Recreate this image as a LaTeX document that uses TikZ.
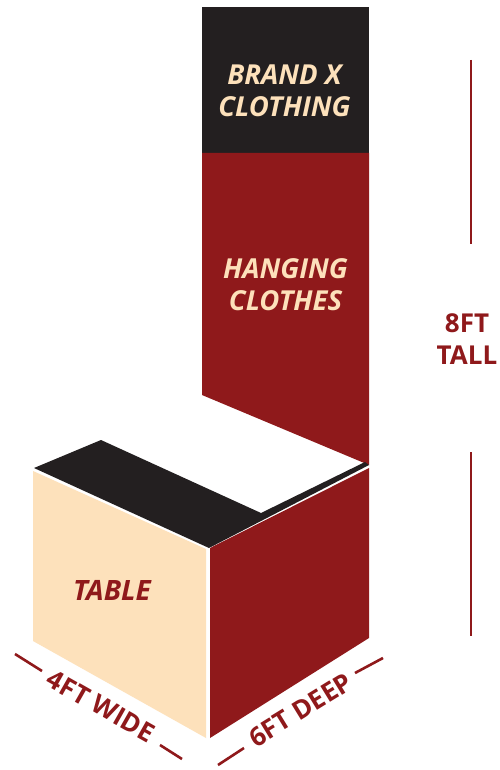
\documentclass[tikz,border=0pt]{standalone}
\usepackage{fontspec}
\setmainfont{Open Sans}
\definecolor{brandred}{HTML}{8F191B}
\definecolor{brandtan}{HTML}{FDE1BB}
\definecolor{brandblack}{HTML}{231F20}
\tikzset{
  x=1pt,y=-1pt,
  measure/.style={draw=brandred,line width=2.6pt},
  big label/.style={font=\fontsize{26}{32}\selectfont\bfseries,align=center,inner sep=0pt},
  tan label/.style={big label,text=brandtan,font=\fontsize{27.5}{32}\selectfont\bfseries\itshape},
  red label/.style={big label,text=brandred},
}
\begin{document}
\begin{tikzpicture}
\useasboundingbox (0,0) rectangle (499,770);
\fill[white] (0,0) rectangle (499,770);
% hanging panel
\fill[brandblack] (202,7) rectangle (369,153);
\fill[brandred] (202,153) -- (369,153) -- (369,465) -- (202,395) -- cycle;
% table top
\fill[brandblack] (34,468) -- (101,440) -- (261,513) -- (365,462) -- (369,465) -- (209,548) -- cycle;
% table faces
\fill[brandtan] (33,471) -- (206,549) -- (206,738) -- (33,641) -- cycle;
\fill[brandred] (210,548) -- (369,468) -- (369,638) -- (210,738) -- cycle;
% labels
\node[tan label] (brand) at (284.5,91) {BRAND X\\CLOTHING};
\node[tan label] (hanging) at (285.5,285) {HANGING\\CLOTHES};
\node[big label,text=brandred,font=\fontsize{28}{32}\selectfont\bfseries\itshape] (table) at (112,590) {TABLE};
\node[red label] (tall) at (467,339) {8FT\\TALL};
\node[red label,rotate=-29.5] (wide) at (101,706) {4FT WIDE};
\node[red label,rotate=31.5] (deep) at (300.5,710) {6FT DEEP};
% measure lines
\coordinate (t1) at (471,60); \coordinate (t2) at (471,244);
\coordinate (t3) at (471,452); \coordinate (t4) at (471,636);
\coordinate (w1) at (15,654); \coordinate (w2) at (42,671);
\coordinate (w3) at (160,745); \coordinate (w4) at (182,759);
\coordinate (d1) at (218,765); \coordinate (d2) at (244,748);
\coordinate (d3) at (355,673); \coordinate (d4) at (383,658);
\draw[measure] (t1) -- (t2);
\draw[measure] (t3) -- (t4);
\draw[measure] (w1) -- (w2);
\draw[measure] (w3) -- (w4);
\draw[measure] (d1) -- (d2);
\draw[measure] (d3) -- (d4);
\end{tikzpicture}
\end{document}
